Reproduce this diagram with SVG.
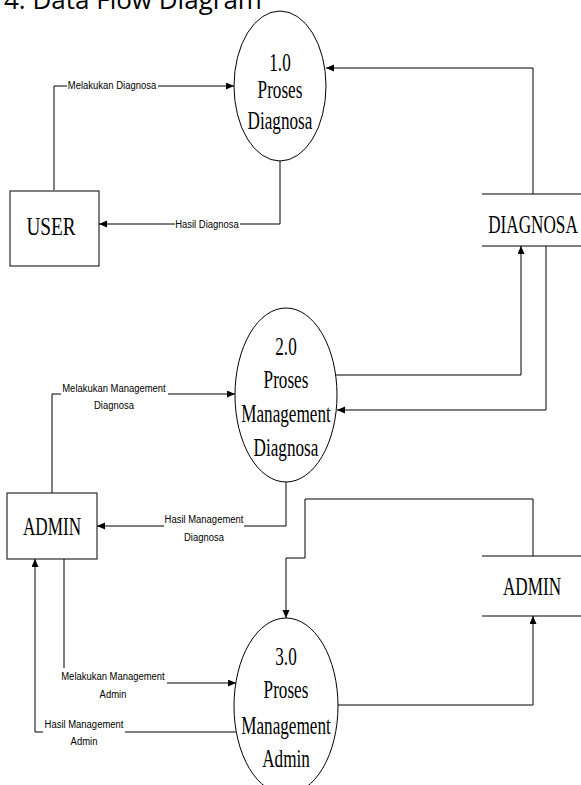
<svg xmlns="http://www.w3.org/2000/svg" width="581" height="785" viewBox="0 0 581 785">
<style>
.shape{fill:#fff;stroke:#000;stroke-width:1}
.line{fill:none;stroke:#000;stroke-width:1}
.big{font-family:"Liberation Serif","Times New Roman",serif;font-size:26px;fill:#000;text-anchor:middle}
.lbl{font-family:"Liberation Sans",Arial,sans-serif;font-size:11px;fill:#000;text-anchor:middle}
.bg{fill:#fff;stroke:none}
.title{font-family:"Open Sans","Noto Sans",sans-serif;font-size:26px;fill:#000}
</style>
<defs>
<marker id="arr" markerUnits="userSpaceOnUse" markerWidth="9" markerHeight="8" refX="8" refY="3.5" orient="auto">
<path d="M0,0 L8,3.5 L0,7 z" fill="#000"/>
</marker>
</defs>
<rect width="581" height="785" fill="#fff"/>
<text class="title" x="4" y="9">4. Data Flow Diagram</text>

<g id="connectors">
<path class="line" d="M54,190 V86 H234" marker-end="url(#arr)"/>
<path class="line" d="M280,161 V224 H99" marker-end="url(#arr)"/>
<path class="line" d="M533,194 V68 H326" marker-end="url(#arr)"/>
<path class="line" d="M336,375 H521 V246" marker-end="url(#arr)"/>
<path class="line" d="M546,246 V410 H337" marker-end="url(#arr)"/>
<path class="line" d="M52,493 V394 H235" marker-end="url(#arr)"/>
<path class="line" d="M286,482 V526 H97" marker-end="url(#arr)"/>
<path class="line" d="M533,556 V499 H305 V558 H286 V618" marker-end="url(#arr)"/>
<path class="line" d="M338,705 H533 V616" marker-end="url(#arr)"/>
<path class="line" d="M64,559 V683 H236" marker-end="url(#arr)"/>
<path class="line" d="M236,732 H35 V559" marker-end="url(#arr)"/>

<rect class="bg" x="67" y="80" width="91" height="12"/>
<text class="lbl" transform="translate(112,89) scale(0.86,1)">Melakukan Diagnosa</text>
<rect class="bg" x="175" y="218" width="65" height="12"/>
<text class="lbl" transform="translate(207,227.5) scale(0.86,1)">Hasil Diagnosa</text>
<rect class="bg" x="61" y="381" width="107" height="31"/>
<text class="lbl" transform="translate(114,392) scale(0.86,1)">Melakukan Management</text>
<text class="lbl" transform="translate(114,409) scale(0.86,1)">Diagnosa</text>
<rect class="bg" x="164" y="511" width="80" height="34"/>
<text class="lbl" transform="translate(204,523) scale(0.86,1)">Hasil Management</text>
<text class="lbl" transform="translate(204,541) scale(0.86,1)">Diagnosa</text>
<rect class="bg" x="60" y="668" width="107" height="32"/>
<text class="lbl" transform="translate(113,680) scale(0.86,1)">Melakukan Management</text>
<text class="lbl" transform="translate(113,698) scale(0.86,1)">Admin</text>
<rect class="bg" x="43" y="716" width="82" height="32"/>
<text class="lbl" transform="translate(84,728) scale(0.86,1)">Hasil Management</text>
<text class="lbl" transform="translate(84,745) scale(0.86,1)">Admin</text>
</g>

<g id="p1">
<ellipse class="shape" cx="280" cy="86" rx="46" ry="75"/>
<text class="big" transform="translate(280,71) scale(0.66,1)">1.0</text>
<text class="big" transform="translate(280,98) scale(0.66,1)">Proses</text>
<text class="big" transform="translate(280,129) scale(0.66,1)">Diagnosa</text>
</g>

<g id="user">
<rect class="shape" x="10" y="191" width="89" height="75"/>
<text class="big" transform="translate(51,235) scale(0.74,1)">USER</text>
</g>

<g id="ds-diagnosa">
<line class="line" x1="482" y1="194" x2="581" y2="194"/>
<line class="line" x1="482" y1="246" x2="581" y2="246"/>
<text class="big" transform="translate(533,233) scale(0.66,1)">DIAGNOSA</text>
</g>

<g id="p2">
<ellipse class="shape" cx="286" cy="395" rx="51" ry="87"/>
<text class="big" transform="translate(286,355) scale(0.66,1)">2.0</text>
<text class="big" transform="translate(286,388) scale(0.66,1)">Proses</text>
<text class="big" transform="translate(286,422) scale(0.66,1)">Management</text>
<text class="big" transform="translate(286,456) scale(0.66,1)">Diagnosa</text>
</g>

<g id="admin">
<rect class="shape" x="7" y="493" width="90" height="66"/>
<text class="big" transform="translate(52,535) scale(0.66,1)">ADMIN</text>
</g>

<g id="ds-admin">
<line class="line" x1="482" y1="556" x2="581" y2="556"/>
<line class="line" x1="482" y1="616" x2="581" y2="616"/>
<text class="big" transform="translate(532,595) scale(0.66,1)">ADMIN</text>
</g>

<g id="p3">
<ellipse class="shape" cx="286" cy="706" rx="52" ry="88"/>
<text class="big" transform="translate(286,665) scale(0.66,1)">3.0</text>
<text class="big" transform="translate(286,698) scale(0.66,1)">Proses</text>
<text class="big" transform="translate(286,734) scale(0.66,1)">Management</text>
<text class="big" transform="translate(286,767) scale(0.66,1)">Admin</text>
</g>
</svg>
